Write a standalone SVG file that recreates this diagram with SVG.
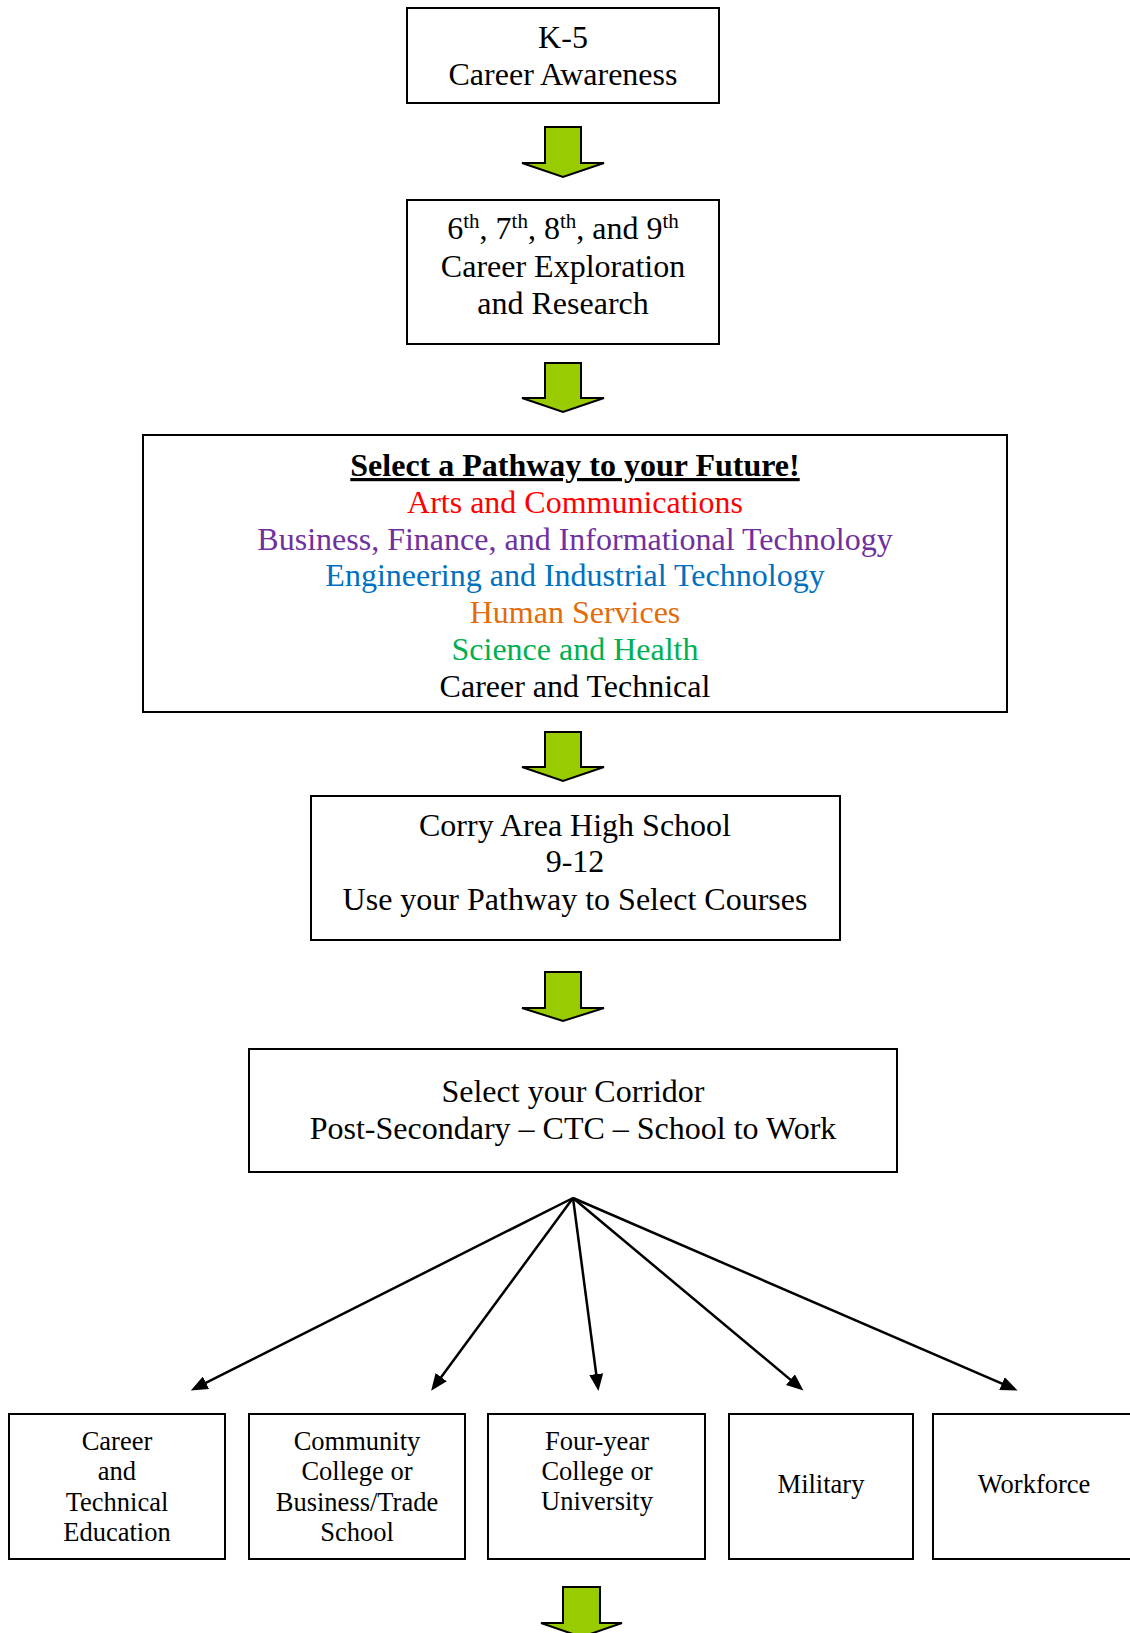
<svg xmlns="http://www.w3.org/2000/svg" width="1130" height="1633" viewBox="0 0 1130 1633">
<style>
  .box { fill: #ffffff; stroke: #000000; stroke-width: 2; }
  .t { font-family: "Liberation Serif", "Times New Roman", serif; font-size: 32px; fill: #000000; text-anchor: middle; }
  .s { font-family: "Liberation Serif", "Times New Roman", serif; font-size: 26.5px; fill: #000000; text-anchor: middle; }
  .sup { font-size: 21px; }
  .green { fill: #99CC00; stroke: #000000; stroke-width: 2; stroke-linejoin: miter; }
  .conn { stroke: #000000; stroke-width: 2.5; fill: none; marker-end: url(#head); }
</style>
<defs>
  <marker id="head" markerUnits="userSpaceOnUse" markerWidth="17" markerHeight="14" refX="12" refY="7" orient="auto">
    <path d="M0,0 L17,7 L0,14 z" fill="#000000"/>
  </marker>
</defs>
<rect x="0" y="0" width="1130" height="1633" fill="#ffffff"/>

<g id="k5">
  <rect class="box" x="407" y="8" width="312" height="95"/>
  <text class="t" x="563" y="48">K-5</text>
  <text class="t" x="563" y="85">Career Awareness</text>
</g>

<g id="grades69">
  <rect class="box" x="407" y="200" width="312" height="144"/>
  <text class="t" x="563" y="239">6<tspan class="sup" dy="-11">th</tspan><tspan dy="11">, 7</tspan><tspan class="sup" dy="-11">th</tspan><tspan dy="11">, 8</tspan><tspan class="sup" dy="-11">th</tspan><tspan dy="11">, and 9</tspan><tspan class="sup" dy="-11">th</tspan></text>
  <text class="t" x="563" y="277">Career Exploration</text>
  <text class="t" x="563" y="314">and Research</text>
</g>

<g id="pathway">
  <rect class="box" x="143" y="435" width="864" height="277"/>
  <text class="t" x="575" y="476" font-weight="bold" text-decoration="underline">Select a Pathway to your Future!</text>
  <text class="t" x="575" y="512.5" style="fill:#FF0000">Arts and Communications</text>
  <text class="t" x="575" y="549.5" style="fill:#7030A0">Business, Finance, and Informational Technology</text>
  <text class="t" x="575" y="585.5" style="fill:#0070C0">Engineering and Industrial Technology</text>
  <text class="t" x="575" y="623" style="fill:#E36C09">Human Services</text>
  <text class="t" x="575" y="659.5" style="fill:#00B050">Science and Health</text>
  <text class="t" x="575" y="696.5">Career and Technical</text>
</g>

<g id="highschool">
  <rect class="box" x="311" y="796" width="529" height="144"/>
  <text class="t" x="575" y="836">Corry Area High School</text>
  <text class="t" x="575" y="872">9-12</text>
  <text class="t" x="575" y="909.5">Use your Pathway to Select Courses</text>
</g>

<g id="corridor">
  <rect class="box" x="249" y="1049" width="648" height="123"/>
  <text class="t" x="573" y="1102">Select your Corridor</text>
  <text class="t" x="573" y="1139">Post-Secondary – CTC – School to Work</text>
</g>

<g id="cte">
  <rect class="box" x="9" y="1414" width="216" height="145"/>
  <text class="s" x="117" y="1450">Career</text>
  <text class="s" x="117" y="1480">and</text>
  <text class="s" x="117" y="1511">Technical</text>
  <text class="s" x="117" y="1541">Education</text>
</g>

<g id="community">
  <rect class="box" x="249" y="1414" width="216" height="145"/>
  <text class="s" x="357" y="1450">Community</text>
  <text class="s" x="357" y="1480">College or</text>
  <text class="s" x="357" y="1511">Business/Trade</text>
  <text class="s" x="357" y="1541">School</text>
</g>

<g id="fouryear">
  <rect class="box" x="488" y="1414" width="217" height="145"/>
  <text class="s" x="597" y="1450">Four-year</text>
  <text class="s" x="597" y="1480">College or</text>
  <text class="s" x="597" y="1510">University</text>
</g>

<g id="military">
  <rect class="box" x="729" y="1414" width="184" height="145"/>
  <text class="s" x="821" y="1493">Military</text>
</g>

<g id="workforce">
  <rect class="box" x="933" y="1414" width="203" height="145"/>
  <text class="s" x="1034" y="1493">Workforce</text>
</g>

<g id="connectors">
  <polygon class="green" points="545,127 581,127 581,163 604,163 563,177 522,163 545,163"/>
  <polygon class="green" points="545,363 581,363 581,398 604,398 563,412 522,398 545,398"/>
  <polygon class="green" points="545,732 581,732 581,767 604,767 563,781 522,767 545,767"/>
  <polygon class="green" points="545,972 581,972 581,1008 604,1008 563,1021 522,1008 545,1008"/>
  <polygon class="green" points="563,1587 600,1587 600,1623 622,1623 581.5,1637 541,1623 563,1623"/>
  <line class="conn" x1="573" y1="1198" x2="195.3" y2="1388.2"/>
  <line class="conn" x1="573" y1="1198" x2="434.1" y2="1386.8"/>
  <line class="conn" x1="573" y1="1198" x2="597.8" y2="1386.0"/>
  <line class="conn" x1="573" y1="1198" x2="799.6" y2="1387.4"/>
  <line class="conn" x1="573" y1="1198" x2="1013.0" y2="1388.4"/>
</g>
</svg>
